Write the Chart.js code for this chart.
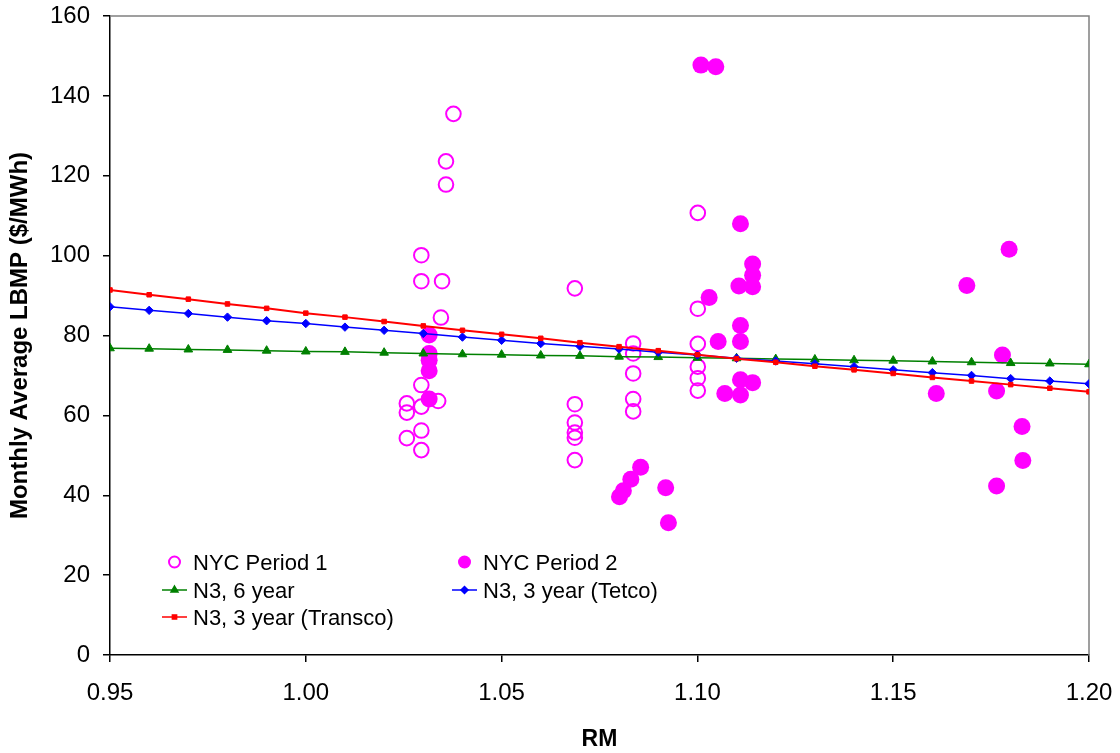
<!DOCTYPE html>
<html>
<head>
<meta charset="utf-8">
<script src="https://cdn.jsdelivr.net/npm/chart.js@4.4.1/dist/chart.umd.min.js"></script>
<style>
  html, body { margin: 0; padding: 0; background: #fff; }
  #wrap { width: 1120px; height: 753px; }
</style>
</head>
<body>
<div id="wrap"><canvas id="c" width="1120" height="753"></canvas></div>
<script>
// ---- Data ----
const xTicks = [0.95, 1.00, 1.05, 1.10, 1.15, 1.20];
const yTicks = [0, 20, 40, 60, 80, 100, 120, 140, 160];

// NYC Period 1 (hollow circles)
const p1RM = [1.0377, 1.0358, 1.0358, 1.0295, 1.0295, 1.0348, 1.0345, 1.0295, 1.0338, 1.0258, 1.0295, 1.0258, 1.0295, 1.0258, 1.0295,
              1.0687, 1.0687, 1.0687, 1.0687, 1.0687, 1.0687,
              1.0836, 1.0836, 1.0836, 1.0836, 1.0836,
              1.1001, 1.1001, 1.1001, 1.1001, 1.1001, 1.1001];
const p1Price = [135.5, 123.6, 117.8, 100.1, 93.6, 93.6, 84.5, 67.6, 63.6, 63.0, 62.2, 60.7, 56.2, 54.3, 51.3,
                 91.8, 62.8, 58.2, 55.7, 54.4, 48.8,
                 78.0, 75.5, 70.5, 64.1, 61.0,
                 110.7, 86.7, 77.9, 72.2, 69.3, 66.2];

// NYC Period 2 (filled circles)
const p2RM = [1.0315, 1.0315, 1.0315, 1.0315, 1.0315,
              1.0801, 1.0811, 1.0830, 1.0855, 1.0919, 1.0926,
              1.1009, 1.1047, 1.1110, 1.1141, 1.1141, 1.1106, 1.1141, 1.1030, 1.1110, 1.1053, 1.1110, 1.1110, 1.1141, 1.1070, 1.1110,
              1.1796, 1.1688, 1.1779, 1.1610, 1.1764, 1.1829, 1.1831, 1.1764];
const p2Price = [80.1, 75.5, 73.8, 71.2, 64.1,
                 39.6, 41.1, 44.0, 47.0, 41.9, 33.1,
                 147.7, 147.3, 108.0, 97.9, 95.1, 92.4, 92.2, 89.5, 82.5, 78.5, 78.5, 68.9, 68.2, 65.5, 65.1,
                 101.6, 92.5, 75.1, 65.5, 66.1, 57.2, 48.7, 42.3];

// Model lines
const lineRM = [0.95, 0.96, 0.97, 0.98, 0.99, 1.00, 1.01, 1.02, 1.03, 1.04, 1.05, 1.06, 1.07,
                1.08, 1.09, 1.10, 1.11, 1.12, 1.13, 1.14, 1.15, 1.16, 1.17, 1.18, 1.19, 1.20];
const n3SixYear = [76.8, 76.7, 76.5, 76.4, 76.2, 76.0, 75.9, 75.7, 75.5, 75.3, 75.2, 75.0, 74.9,
                   74.7, 74.6, 74.4, 74.3, 74.1, 74.0, 73.8, 73.7, 73.5, 73.3, 73.1, 73.0, 72.8];
const n3Tetco = [87.2, 86.3, 85.5, 84.6, 83.7, 83.0, 82.1, 81.3, 80.5, 79.6, 78.8, 78.0, 77.3,
                 76.6, 75.8, 75.1, 74.3, 73.6, 72.9, 72.2, 71.4, 70.7, 70.0, 69.2, 68.6, 67.9];
const n3Transco = [91.4, 90.2, 89.1, 87.9, 86.8, 85.6, 84.6, 83.5, 82.4, 81.3, 80.3, 79.3, 78.2,
                   77.2, 76.2, 75.2, 74.2, 73.3, 72.3, 71.4, 70.5, 69.5, 68.6, 67.7, 66.8, 65.9];

const legendItems = [
  { label: 'NYC Period 1', kind: 'hollow', color: '#FF00FF', col: 0, row: 0 },
  { label: 'NYC Period 2', kind: 'filled', color: '#FF00FF', col: 1, row: 0 },
  { label: 'N3, 6 year', kind: 'line', style: 'triangle', color: '#008000', r: 4, col: 0, row: 1 },
  { label: 'N3, 3 year (Tetco)', kind: 'line', style: 'rectRot', color: '#0000FF', r: 3.5, col: 1, row: 1 },
  { label: 'N3, 3 year (Transco)', kind: 'line', style: 'rect', color: '#FF0000', r: 3, col: 0, row: 2 }
];

// ---- Build datasets ----
const zip = (xs, ys) => xs.map((x, i) => ({ x: x, y: ys[i] }));
const FONT = "'Liberation Sans', Arial, sans-serif";
Chart.defaults.font.family = FONT;
Chart.defaults.color = '#000';

const framePlugin = {
  id: 'frame',
  beforeDatasetsDraw(chart) {
    const { ctx, chartArea: a } = chart;
    ctx.save();
    ctx.strokeStyle = '#808080';
    ctx.lineWidth = 1.5;
    ctx.beginPath();
    ctx.moveTo(a.left, a.top);
    ctx.lineTo(a.right, a.top);
    ctx.lineTo(a.right, a.bottom);
    ctx.stroke();
    ctx.restore();
  }
};

const legendPlugin = {
  id: 'customLegend',
  afterDraw(chart) {
    const ctx = chart.ctx;
    const colText = [193, 483];
    const colMark = [174.5, 464.5];
    const rowY = [562, 590, 617];
    ctx.save();
    ctx.font = '22px ' + FONT;
    ctx.textBaseline = 'alphabetic';
    ctx.textAlign = 'left';
    legendItems.forEach(it => {
      const cx = colMark[it.col], cy = rowY[it.row];
      if (it.kind === 'hollow' || it.kind === 'filled') {
        ctx.beginPath();
        ctx.arc(cx, cy, it.kind === 'hollow' ? 5.5 : 6.5, 0, Math.PI * 2);
        if (it.kind === 'hollow') {
          ctx.lineWidth = 2; ctx.strokeStyle = it.color; ctx.stroke();
        } else {
          ctx.fillStyle = it.color; ctx.fill();
        }
      } else {
        ctx.beginPath();
        ctx.moveTo(cx - 12.5, cy); ctx.lineTo(cx + 12.5, cy);
        ctx.lineWidth = 1.5; ctx.strokeStyle = it.color; ctx.stroke();
        ctx.fillStyle = it.color;
        Chart.helpers.drawPoint(ctx, { pointStyle: it.style, radius: it.r, rotation: 0, borderWidth: 1 }, cx, cy);
      }
      ctx.fillStyle = '#000';
      ctx.fillText(it.label, colText[it.col], cy + 8);
    });
    ctx.restore();
  }
};

const lineDs = (label, ys, color, style, r, order, bw) => ({
  type: 'line',
  label: label,
  data: zip(lineRM, ys),
  borderColor: color,
  backgroundColor: color,
  borderWidth: bw,
  pointStyle: style,
  pointRadius: r,
  pointBorderWidth: 1,
  pointBackgroundColor: color,
  pointBorderColor: color,
  tension: 0,
  fill: false,
  order: order
});

new Chart(document.getElementById('c'), {
  type: 'scatter',
  data: {
    datasets: [
      {
        label: 'NYC Period 1',
        data: zip(p1RM, p1Price),
        pointStyle: 'circle',
        pointRadius: 7.3,
        pointBorderWidth: 2,
        pointBorderColor: '#FF00FF',
        pointBackgroundColor: 'rgba(0,0,0,0)',
        order: 4
      },
      {
        label: 'NYC Period 2',
        data: zip(p2RM, p2Price),
        pointStyle: 'circle',
        pointRadius: 8.5,
        pointBorderWidth: 0,
        pointBorderColor: '#FF00FF',
        pointBackgroundColor: '#FF00FF',
        order: 3
      },
      lineDs('N3, 6 year', n3SixYear, '#008000', 'triangle', 5, 2, 1.5),
      lineDs('N3, 3 year (Tetco)', n3Tetco, '#0000FF', 'rectRot', 4.2, 1, 1.5),
      lineDs('N3, 3 year (Transco)', n3Transco, '#FF0000', 'rect', 3.2, 0, 2)
    ]
  },
  options: {
    responsive: false,
    animation: false,
    events: [],
    layout: { padding: { left: 0, right: 31, top: 16, bottom: 0 } },
    plugins: {
      legend: { display: false },
      tooltip: { enabled: false }
    },
    scales: {
      x: {
        type: 'linear',
        min: 0.95,
        max: 1.20,
        afterBuildTicks: s => { s.ticks = xTicks.map(v => ({ value: v })); },
        afterFit: s => { s.height = 98; s.paddingLeft = 0; s.paddingRight = 0; },
        grid: { display: true, drawOnChartArea: false, drawTicks: true, tickLength: 7, color: '#000', lineWidth: 1.5 },
        border: { display: true, color: '#000', width: 1.5 },
        ticks: {
          padding: 17,
          maxRotation: 0,
          autoSkip: false,
          font: { size: 24 },
          color: '#000',
          callback: v => Number(v).toFixed(2)
        },
        title: {
          display: true,
          text: 'RM',
          color: '#000',
          font: { size: 23, weight: 'bold', lineHeight: 1.0 },
          padding: { top: 2, bottom: 2 }
        }
      },
      y: {
        type: 'linear',
        min: 0,
        max: 160,
        afterBuildTicks: s => { s.ticks = yTicks.map(v => ({ value: v })); },
        afterFit: s => { s.width = 110; s.paddingTop = 0; s.paddingBottom = 0; },
        grid: { display: true, drawOnChartArea: false, drawTicks: true, tickLength: 7, color: '#000', lineWidth: 1.5 },
        border: { display: true, color: '#000', width: 1.5 },
        ticks: {
          padding: 13,
          autoSkip: false,
          font: { size: 24 },
          color: '#000',
          callback: v => String(v)
        },
        title: {
          display: true,
          text: 'Monthly Average LBMP ($/MWh)',
          color: '#000',
          font: { size: 24, weight: 'bold', lineHeight: 1.2 },
          padding: { top: 6, bottom: 6 }
        }
      }
    }
  },
  plugins: [framePlugin, legendPlugin]
});
</script>
</body>
</html>
